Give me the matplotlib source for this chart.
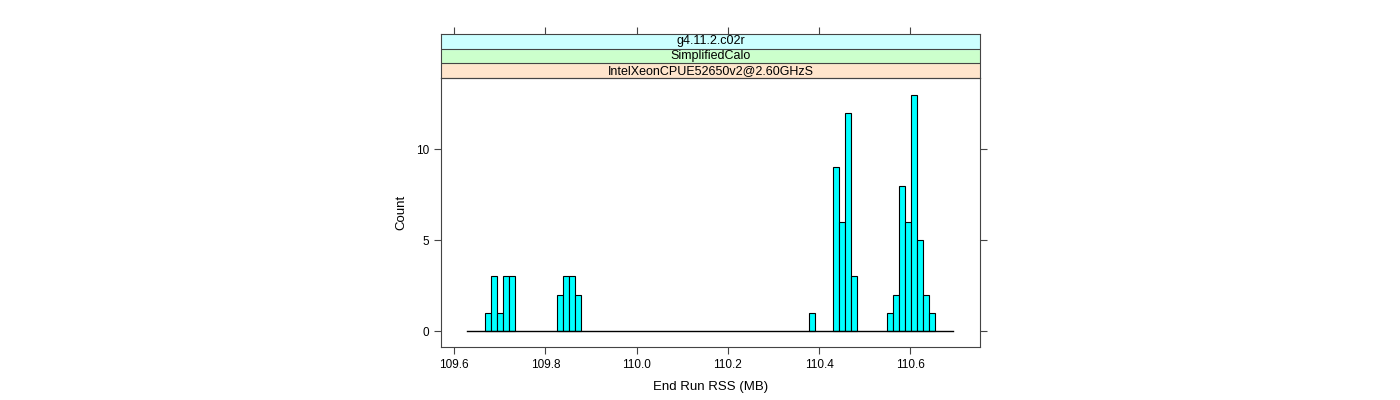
import numpy as np
import matplotlib
matplotlib.use("Agg")
import matplotlib.pyplot as plt

# histogram of end-run RSS, lattice style
strips = ["IntelXeonCPUE52650v2@2.60GHzS", "SimplifiedCalo", "g4.11.2.c02r"]
strip_colors = ["#ffe5cc", "#ccffcc", "#ccffff"]

break_lo, break_hi = 109.6285, 110.694
counts = [0, 0, 0, 1, 3, 1, 3, 3, 0, 0,
          0, 0, 0, 0, 0, 2, 3, 3, 2, 0,
          0, 0, 0, 0, 0, 0, 0, 0, 0, 0,
          0, 0, 0, 0, 0, 0, 0, 0, 0, 0,
          0, 0, 0, 0, 0, 0, 0, 0, 0, 0,
          0, 0, 0, 0, 0, 0, 0, 1, 0, 0,
          0, 9, 6, 12, 3, 0, 0, 0, 0, 0,
          1, 2, 8, 6, 13, 5, 2, 1, 0, 0,
          0]
xticks = [109.6, 109.8, 110.0, 110.2, 110.4, 110.6]
yticks = [0, 5, 10]

plt.rcParams["font.family"] = ["Liberation Sans", "DejaVu Sans"]
frame = "#444444"

counts = np.array(counts)
breaks = np.linspace(break_lo, break_hi, len(counts) + 1)
width = np.diff(breaks)

fig = plt.figure(figsize=(14, 4), dpi=100)
ax = fig.add_axes([0.315, 0.1325, 0.385, 0.6725])
keep = counts > 0
ax.bar(breaks[:-1][keep], counts[keep], width=width[keep], align="edge",
       color="#00ffff", edgecolor="black", linewidth=0.8)
ax.plot([breaks[0], breaks[-1]], [0, 0], color="black", linewidth=1)

ax.set_xlim(109.571, 110.753)
ax.set_ylim(-0.88, 13.92)
ax.set_xticks(xticks)
ax.set_xticklabels([f"{t:.1f}" for t in xticks])
ax.set_yticks(yticks)
ax.tick_params(direction="out", length=5, color=frame, labelsize=8.5,
               right=True, labelright=False)
for s in ax.spines.values():
    s.set_color(frame)
ax.set_xlabel("End Run RSS (MB)", fontsize=9.5, labelpad=7)
ax.set_ylabel("Count", fontsize=9.5, labelpad=6)

# strips above the panel
sx = fig.add_axes([0.315, 0.805, 0.385, 0.11], sharex=ax)
sx.set_ylim(0, len(strips))
for i, (name, col) in enumerate(zip(strips, strip_colors)):
    sx.axhspan(i, i + 1, color=col, zorder=0)
    sx.axhline(i, color=frame, linewidth=0.8)
    sx.text(0.5, (i + 0.5) / len(strips), name, transform=sx.transAxes,
            ha="center", va="center", fontsize=9)
sx.set_yticks([])
sx.tick_params(axis="x", direction="out", length=5, color=frame,
               bottom=False, labelbottom=False, top=True, labeltop=False)
for s in sx.spines.values():
    s.set_color(frame)

fig.savefig("out.png", dpi=100)
